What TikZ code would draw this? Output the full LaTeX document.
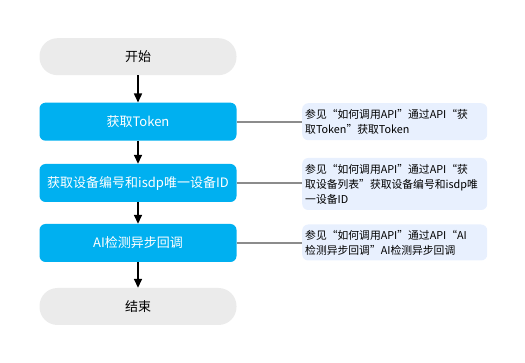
\documentclass[tikz,border=0pt]{standalone}
\usepackage{fontspec}
\setmainfont{Noto Sans CJK SC}
\definecolor{StepBlue} {RGB}{0, 176, 240}
\definecolor{EndGray}  {RGB}{235, 235, 235}
\definecolor{NoteBlue} {RGB}{232, 240, 254}
\definecolor{LinkGray} {RGB}{140, 140, 140}
\usetikzlibrary{arrows.meta, positioning, calc}

\begin{document}
\begin{tikzpicture}[x=1pt, y=-1pt, >={Triangle[length=9pt, width=8pt]},
  termbox/.style = {fill=EndGray, rounded corners=18pt,
                    minimum width=197pt, minimum height=37pt,
                    font=\fontsize{13}{15}\selectfont\color{black}},
  stepbox/.style = {fill=StepBlue, rounded corners=6pt,
                    minimum width=197pt, minimum height=38pt,
                    font=\fontsize{13}{15}\selectfont\color{white}},
  notebox/.style = {fill=NoteBlue, rounded corners=6pt, anchor=west,
                    minimum width=185pt, text width=179pt, inner sep=3pt,
                    align=left, font=\fontsize{10.8}{15}\selectfont},
  flow/.style    = {->, line width=1.5pt, black},
  link/.style    = {LinkGray, line width=1.8pt}
]
  \useasboundingbox (0,0) rectangle (525,363);

  %% Main flow
  \node[termbox] (start) at (138, 56.7)  {开始};
  \node[stepbox] (tok)   at (138, 121.7) {获取Token};
  \node[stepbox] (dev)   at (138, 183)   {获取设备编号和isdp唯一设备ID};
  \node[stepbox] (ai)    at (138, 243)   {AI检测异步回调};
  \node[termbox] (stop)  at (138, 306.5) {结束};

  \draw[flow] (start) -- (tok);
  \draw[flow] (tok)   -- (dev);
  \draw[flow] (dev)   -- (ai);
  \draw[flow] (ai)    -- (stop);

  %% Notes
  \node[notebox, minimum height=37pt] (n1) at (302, 121.7)
    {参见“如何调用API”通过API“获\\取Token”获取Token};
  \node[notebox, minimum height=52pt] (n2) at (302, 184)
    {参见“如何调用API”通过API“获\\取设备列表”获取设备编号和isdp唯\\一设备ID};
  \node[notebox, minimum height=36pt] (n3) at (302, 242.5)
    {参见“如何调用API”通过API“AI\\检测异步回调”AI检测异步回调};

  \draw[link] (tok.east) -- (tok.east -| n1.west);
  \draw[link] (dev.east) -- (dev.east -| n2.west);
  \draw[link] (ai.east)  -- (ai.east -| n3.west);
\end{tikzpicture}
\end{document}
